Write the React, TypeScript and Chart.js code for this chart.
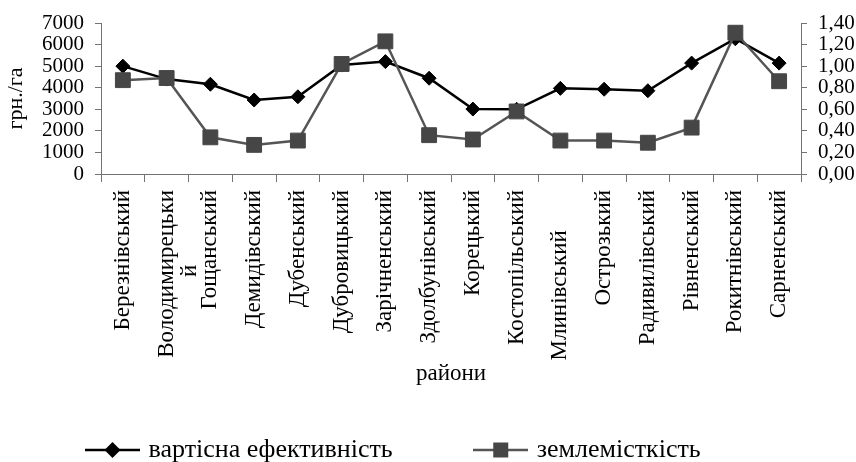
import React, { useEffect, useRef } from 'react';
import { Chart, registerables } from 'chart.js';

Chart.register(...registerables);

// ---- data ----
const districts = [
  'Березнівський', 'Володимирецький', 'Гощанський', 'Демидівський', 'Дубенський',
  'Дубровицький', 'Зарічненський', 'Здолбунівський', 'Корецький', 'Костопільський',
  'Млинівський', 'Острозький', 'Радивилівський', 'Рівненський', 'Рокитнівський', 'Сарненський',
];

// axis labels as printed in the original (one wrapped, one shifted)
const districtTickLabels: (string | string[])[] = [
  'Березнівський', ['Володимирецьки', 'й' + ' '.repeat(13)], 'Гощанський', 'Демидівський', 'Дубенський',
  'Дубровицький', 'Зарічненський', 'Здолбунівський', 'Корецький', 'Костопільський',
  'Млинівський' + ' '.repeat(7), 'Острозький', 'Радивилівський', 'Рівненський', 'Рокитнівський', 'Сарненський',
];

const costEfficiency = [5000, 4400, 4160, 3430, 3580, 5050, 5210, 4440, 3010, 3000, 3970, 3930, 3860, 5140, 6270, 5140];
const landIntensity = [0.87, 0.89, 0.34, 0.27, 0.31, 1.02, 1.23, 0.36, 0.32, 0.58, 0.31, 0.31, 0.29, 0.43, 1.31, 0.86];

const seriesNames = ['вартісна ефективність', 'землемісткість'];
const leftAxisTitle = 'грн./га';
const xAxisTitle = 'райони';
const leftRange = [0, 7000, 1000];
const rightRange = [0, 1.4, 0.2];

const W = 856;
const H = 462;

function makeGlyph(kind: 'diamond' | 'square', lineColor: string, fill: string) {
  const w = 55, h = 20;
  const c = document.createElement('canvas');
  c.width = w; c.height = h;
  const g = c.getContext('2d')!;
  g.strokeStyle = lineColor;
  g.lineWidth = 2.5;
  g.beginPath(); g.moveTo(0, h / 2); g.lineTo(w, h / 2); g.stroke();
  g.fillStyle = fill;
  g.beginPath();
  if (kind === 'diamond') {
    const r = 8;
    g.moveTo(w / 2 - r, h / 2); g.lineTo(w / 2, h / 2 - r); g.lineTo(w / 2 + r, h / 2); g.lineTo(w / 2, h / 2 + r);
    g.closePath();
  } else {
    g.rect(w / 2 - 7.5, h / 2 - 7.5, 15, 15);
  }
  g.fill();
  return c;
}

export default function App() {
  const ref = useRef<HTMLCanvasElement>(null);

  useEffect(() => {
    const canvas = ref.current!;
    const FAMILY = "'Liberation Serif', 'Times New Roman', serif";
    const numFont = { family: FAMILY, size: 21 };
    const textFont = { family: FAMILY, size: 23, lineHeight: 1.0 };
    const legendFont = { family: FAMILY, size: 26 };
    const xTitleFont = { family: FAMILY, size: 23, lineHeight: 1.2 };
    const yTitleFont = { family: FAMILY, size: 22, lineHeight: 1.2 };
    Chart.defaults.font.family = FAMILY;
    const AXIS = '#737373';
    const LINE1 = '#000000';
    const LINE2 = '#555555';
    const SQ = '#464646';
    const P = 85; // legend item spacing
    const LEG_FS = 26;
    const PSW = 46; // legend point-style slot width
    const LEG_X = 89.5;
    const LEG_Y = 450;
    const PLOT_TOP = 23;
    const PLOT_BOTTOM = 174;
    const X_BOTTOM = 430;
    const LEG_H = LEG_FS + P + 10;
    const glyphs = [makeGlyph('diamond', LINE1, '#000'), makeGlyph('square', LINE2, SQ)];

    const placer = {
      id: 'placer',
      afterLayout(chart: any) {
        const lg = chart.legend;
        if (lg) {
          const w = lg.width, h = lg.height;
          lg.left = LEG_X - P; lg.right = lg.left + w;
          lg.top = LEG_Y - LEG_FS / 2 - P; lg.bottom = lg.top + h;
        }
        const xs = chart.scales.x;
        if (xs) { xs.bottom = X_BOTTOM; xs.height = xs.bottom - xs.top; }
      },
    };

    const chart = new Chart(canvas, {
      type: 'line',
      data: {
        labels: districtTickLabels as any,
        datasets: [
          {
            label: seriesNames[0], data: costEfficiency, yAxisID: 'y',
            borderColor: LINE1, backgroundColor: '#000', borderWidth: 2.5,
            pointStyle: 'rectRot', pointRadius: 7, pointBackgroundColor: '#000',
            pointBorderColor: '#000', pointBorderWidth: 1, order: 1, tension: 0,
          },
          {
            label: seriesNames[1], data: landIntensity, yAxisID: 'y1',
            borderColor: LINE2, backgroundColor: SQ, borderWidth: 2.5,
            pointStyle: 'rect', pointRadius: 10.5, pointBackgroundColor: SQ,
            pointBorderColor: SQ, pointBorderWidth: 1, order: 0, tension: 0,
          },
        ],
      },
      options: {
        responsive: false,
        animation: false,
        devicePixelRatio: 1,
        layout: { padding: { top: PLOT_TOP, left: 0, right: 0, bottom: 0 } },
        plugins: {
          tooltip: { enabled: false },
          legend: {
            position: 'bottom',
            align: 'start',
            labels: {
              usePointStyle: true,
              pointStyleWidth: PSW,
              padding: P,
              color: '#000',
              font: legendFont,
              sort: (a: any, b: any) => a.datasetIndex - b.datasetIndex,
              generateLabels: (ch: any) => {
                const items = (Chart.defaults.plugins.legend.labels as any).generateLabels(ch);
                items.forEach((it: any) => { it.pointStyle = glyphs[it.datasetIndex]; });
                return items;
              },
            },
          },
        },
        scales: {
          x: {
            type: 'category',
            offset: true,
            grid: { offset: true, drawOnChartArea: false, tickLength: 8, color: AXIS },
            border: { color: AXIS },
            ticks: { autoSkip: false, minRotation: 90, maxRotation: 90, padding: 8, color: '#000', font: textFont },
            title: {
              display: true, text: xAxisTitle, color: '#000', font: xTitleFont,
              padding: { top: 0, bottom: X_BOTTOM - (23 * 1.2) / 2 - 374 },
            },
            afterFit: (s: any) => {
              s.height = H - PLOT_BOTTOM - LEG_H;
              s.paddingLeft = 0; s.paddingRight = 0;
            },
          },
          y: {
            position: 'left',
            min: leftRange[0], max: leftRange[1],
            grid: { drawOnChartArea: false, tickLength: 6, color: AXIS },
            border: { color: AXIS },
            ticks: { autoSkip: false, stepSize: leftRange[2], padding: 11, color: '#000', font: numFont, callback: (v: any) => String(v) },
            title: { display: true, text: leftAxisTitle, color: '#000', font: yTitleFont, padding: { top: 3, bottom: 0 } },
            afterFit: (s: any) => { s.width = 101; s.paddingTop = 0; s.paddingBottom = 0; },
          },
          y1: {
            position: 'right',
            min: rightRange[0], max: rightRange[1],
            grid: { drawOnChartArea: false, tickLength: 6, color: AXIS },
            border: { color: AXIS },
            ticks: { autoSkip: false, stepSize: rightRange[2], padding: 11, color: '#000', font: numFont, callback: (v: any) => Number(v).toFixed(2).replace('.', ',') },
            afterFit: (s: any) => { s.width = W - 801; s.paddingTop = 0; s.paddingBottom = 0; },
          },
        },
      },
      plugins: [placer],
    } as any);

    return () => chart.destroy();
  }, []);

  return (
    <div style={{ position: 'fixed', left: 0, top: 0, width: W, height: H, background: '#fff' }}>
      <canvas ref={ref} width={W} height={H} aria-label={districts.join(', ')} />
    </div>
  );
}
